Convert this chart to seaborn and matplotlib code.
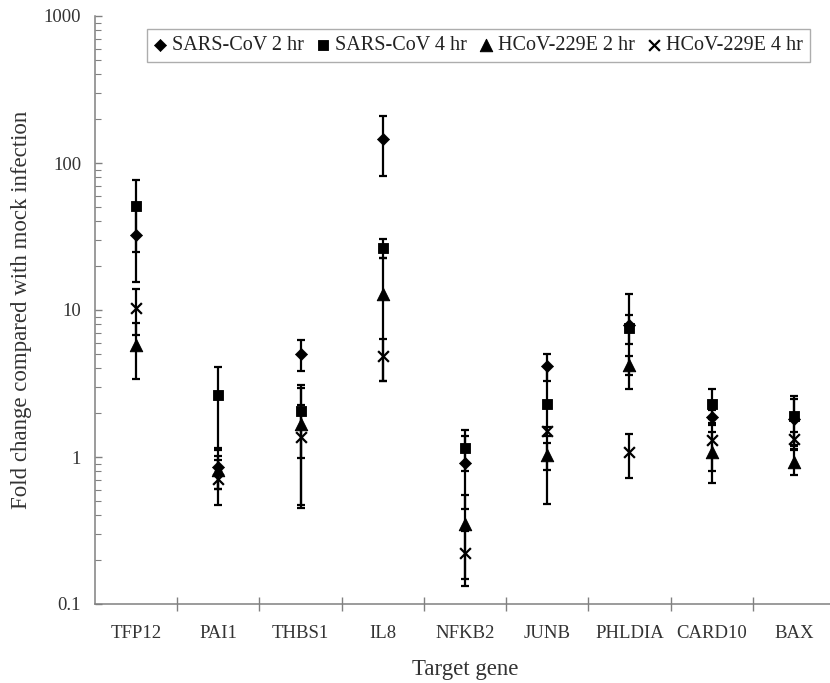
import numpy as np
import matplotlib
matplotlib.use("Agg")
import matplotlib.pyplot as plt
import seaborn as sns
from matplotlib.ticker import FixedLocator, NullFormatter, LogLocator

genes = ["TFP12", "PAI1", "THBS1", "IL8", "NFKB2", "JUNB", "PHLDIA", "CARD10", "BAX"]

sars2 = [32.6, 0.86, 5.05, 145, 0.91, 4.14, 7.9, 1.87, 1.8]
sars2_err = [17, 0.25, 1.2, 63, 0.47, 0.87, 5.0, 0.22, 0.67]
sars4 = [50.7, 2.63, 2.05, 26.4, 1.16, 2.28, 7.55, 2.31, 1.9]
sars4_err = [26, 1.47, 1.06, 3.8, 0.36, 1.8, 1.65, 0.6, 0.7]
hcov2 = [5.75, 0.81, 1.69, 12.9, 0.348, 1.03, 4.21, 1.08, 0.93]
hcov2_err = [2.35, 0.2, 1.24, 9.6, 0.2, 0.22, 0.62, 0.41, 0.18]
hcov4 = [10.3, 0.71, 1.37, 4.84, 0.222, 1.5, 1.08, 1.30, 1.33]
hcov4_err = [3.5, 0.24, 0.9, 1.55, 0.09, 0.1, 0.36, 0.5, 0.15]

series_names = ["SARS-CoV 2 hr", "SARS-CoV 4 hr", "HCoV-229E 2 hr", "HCoV-229E 4 hr"]
ytick_vals = [0.1, 1, 10, 100, 1000]
ytick_labels = ["0.1", "1", "10", "100", "1000"]

sns.set_style("white")
plt.rcParams["font.family"] = ["Liberation Serif", "DejaVu Serif"]

fig = plt.figure(figsize=(8.3, 6.83), dpi=100)
ax = fig.add_axes([95 / 830, 79 / 683, 740 / 830, 588 / 683])

series = [
    (sars2, sars2_err, "D", 38, dict()),
    (sars4, sars4_err, "s", 60, dict()),
    (hcov2, hcov2_err, "^", 80, dict()),
    (hcov4, hcov4_err, "x", 60, dict(linewidth=1.6)),
]

for vals, errs, m, s, kw in series:
    ax.errorbar(genes, vals, yerr=errs, fmt="none", ecolor="black",
                elinewidth=1.6, capsize=3.2, capthick=1.6, zorder=2)

for (vals, errs, m, s, kw), name in zip(series, series_names):
    sns.scatterplot(x=genes, y=vals, marker=m, s=s, color="black",
                    edgecolor="black" if m != "x" else None,
                    label=name, ax=ax, zorder=3, **kw)

ax.set_yscale("log")
ax.set_ylim(0.1, 1000)
ax.set_xlim(-0.5, len(genes) - 0.5)

ax.yaxis.set_major_locator(FixedLocator(ytick_vals))
ax.set_yticklabels(ytick_labels)
ax.yaxis.set_minor_locator(LogLocator(base=10, subs=np.arange(2, 10)))
ax.yaxis.set_minor_formatter(NullFormatter())

n = len(genes)
ax.set_xticks(np.arange(n - 1) + 0.5)
ax.set_xticklabels([])
ax.set_xticks(np.arange(n), minor=True)
ax.set_xticklabels(genes, minor=True)

gray = "#808080"
for side in ["top", "right"]:
    ax.spines[side].set_visible(False)
for side in ["left", "bottom"]:
    ax.spines[side].set_color(gray)
    ax.spines[side].set_linewidth(1.1)

ax.tick_params(axis="y", which="major", direction="in", length=5, width=1, color=gray,
               labelsize=13.5, labelcolor="#333333", pad=10, left=True)
ax.tick_params(axis="y", which="minor", direction="in", length=4, width=0.8, color=gray, left=True)
ax.tick_params(axis="x", which="major", direction="inout", length=10, width=1, color=gray, bottom=True)
ax.tick_params(axis="x", which="minor", length=0, labelsize=13.5, labelcolor="#333333", pad=15)

ax.set_xlabel("Target gene", fontsize=16.5, color="#333333", labelpad=12)
ax.set_ylabel("Fold change compared with mock infection", fontsize=16.5, color="#333333", labelpad=8)

handles, labels = ax.get_legend_handles_labels()
leg = ax.legend(handles, labels, ncol=4, loc="upper left",
                bbox_to_anchor=(147 / 830, 1 - 29 / 683), bbox_transform=fig.transFigure,
                fontsize=14.5, frameon=True, fancybox=False, edgecolor="#999999",
                handlelength=0.6, handletextpad=0.3, columnspacing=0.65,
                borderpad=0.35, borderaxespad=0)
leg.get_frame().set_linewidth(1.0)
for t in leg.get_texts():
    t.set_color("#222222")

fig.savefig("out.png", dpi=100)
